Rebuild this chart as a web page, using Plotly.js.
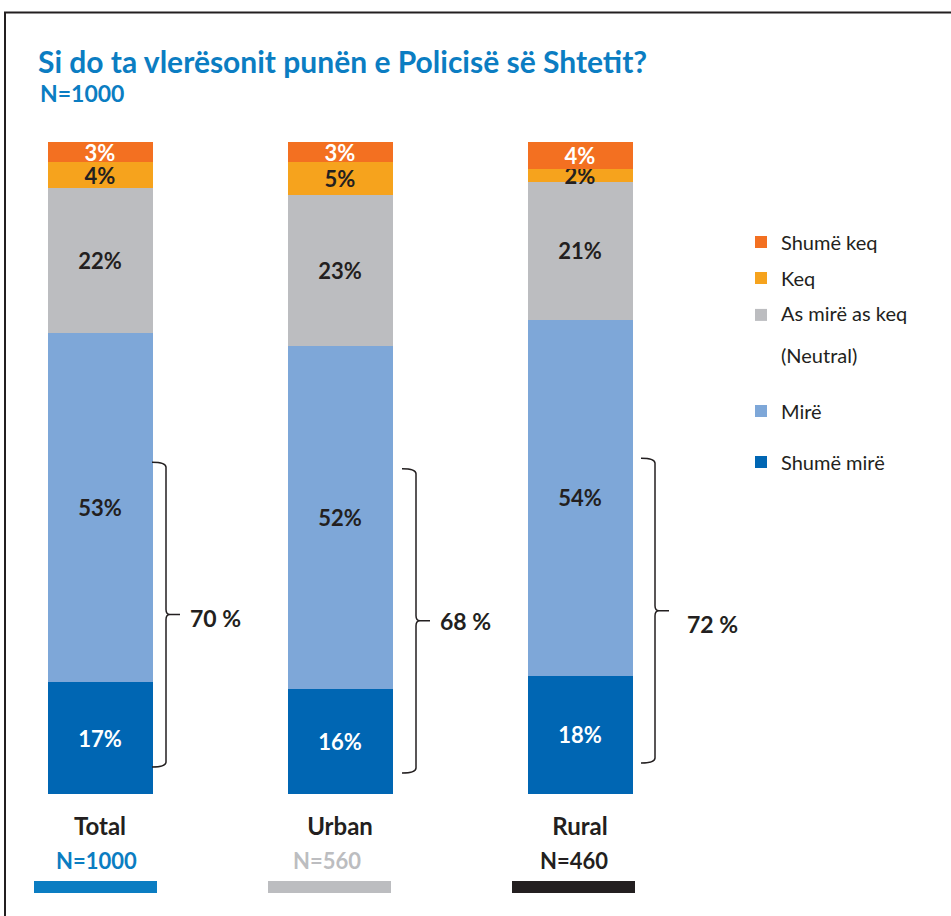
<!DOCTYPE html>
<html><head><meta charset="utf-8">
<script src="https://cdn.plot.ly/plotly-3.0.1.min.js"></script>
<style>html,body{margin:0;padding:0;background:#fff}#chart{width:951px;height:916px}</style>
</head><body><div id="chart"></div>
<script>
// ---- data ----
const categories = ['Total', 'Urban', 'Rural'];
const sampleLabels = ['N=1000', 'N=560', 'N=460'];
const shumeMire = [17, 16, 18];
const mire = [53, 52, 54];
const neutral = [22, 23, 21];
const keq = [4, 5, 2];
const shumeKeq = [3, 3, 4];
const seriesNames = ['Shumë mirë', 'Mirë', 'As mirë as keq', 'Keq', 'Shumë keq'];
const neutralNote = '(Neutral)';
const titleText = 'Si do ta vlerësonit punën e Policisë së Shtetit?';
const subtitleText = 'N=1000';

// ---- styles ----
const seriesColors = ['#0066b3', '#7ea7d8', '#bcbdc0', '#f6a31d', '#f37021'];
const textColors = ['#ffffff', '#231f20', '#231f20', '#231f20', '#ffffff'];
const sampleColors = ['#0b7dc2', '#bcbdc0', '#231f20'];
const FONT = 'Lato, "Open Sans", sans-serif';
const DARK = '#231f20';
const BLUE = '#0b7dc2';

// ---- geometry (page layout) ----
const W = 951, H = 916;
const X0 = 100, XSTEP = 240;      // px of first bar centre, px between bars
const Y0 = 794, YS = 6.583;       // px of baseline, px per percentage point
const X = px => (px - X0) / XSTEP;  // px -> x data
const Y = px => (Y0 - px) / YS;     // px -> y data
const dX = px => px / XSTEP;
const dY = px => px / YS;

const xs = categories.map((c, i) => i);
const series = [shumeMire, mire, neutral, keq, shumeKeq];

const legendNames = seriesNames.map((n, k) => k === 2
  ? '<span style="font-size:20px">' + n + '</span><br> <br><span style="font-size:20px">' + neutralNote + '</span>'
  : n);

const traces = series.map((vals, k) => ({
  type: 'bar',
  x: xs,
  y: vals,
  name: legendNames[k],
  legend: k === 0 ? 'legend' : 'legend' + (k + 1),
  marker: {color: seriesColors[k], line: {width: 0}},
  width: 105 / XSTEP,
  text: vals.map(v => v + '%'),
  textposition: 'inside',
  insidetextanchor: 'middle',
  textangle: 0,
  constraintext: 'none',
  insidetextfont: {family: FONT, size: 22, color: textColors[k], weight: 700},
  hoverinfo: 'skip',
  cliponaxis: false
}));

// legend placement (one legend per series so the uneven spacing can be kept)
const legendCentres = [462, 411, 317, 278, 242]; // per series, px
const legends = {};
legendCentres.forEach((cy, k) => {
  const key = k === 0 ? 'legend' : 'legend' + (k + 1);
  const multi = k === 2;
  legends[key] = {
    x: 741 / W, xanchor: 'left',
    y: multi ? 1 - (cy - 19) / H : 1 - cy / H,
    yanchor: multi ? 'top' : 'middle',
    valign: 'top',
    font: {family: FONT, size: multi ? 16 : 20, color: DARK},
    bgcolor: 'rgba(0,0,0,0)', borderwidth: 0,
    itemclick: false, itemdoubleclick: false
  };
});

// braces & totals
const braceTop = [50.4, 49.4, 51.0];
const braceBot = [4.1, 3.2, 4.7];
const braceX = [66, 76, 75];       // px from bar centre to brace stem
const totalLabelX = [88, 98, 105]; // px from bar centre to label start
const totalLabelDY = [3, 0, 13];   // px below brace tip
const shapes = [];
const annotations = [];

xs.forEach(i => {
  const xv = i + dX(braceX[i]);
  const fl = dX(14), tp = dX(14), r = dX(4), ry = dY(5);
  const t = braceTop[i], b = braceBot[i], m = (t + b) / 2;
  const path =
    `M ${xv - fl} ${t} Q ${xv} ${t} ${xv} ${t - ry} ` +
    `L ${xv} ${m + ry} Q ${xv} ${m} ${xv + r} ${m} L ${xv + tp} ${m} ` +
    `M ${xv + r} ${m} Q ${xv} ${m} ${xv} ${m - ry} ` +
    `L ${xv} ${b + ry} Q ${xv} ${b} ${xv - fl} ${b}`;
  shapes.push({type: 'path', xref: 'x', yref: 'y', path: path,
    line: {color: DARK, width: 1.5}});
  annotations.push({
    xref: 'x', yref: 'y', x: i + dX(totalLabelX[i]), y: m - dY(totalLabelDY[i]),
    xanchor: 'left', yanchor: 'middle', showarrow: false,
    text: (mire[i] + shumeMire[i]) + ' %',
    font: {family: FONT, size: 23, color: DARK, weight: 700}
  });
  // sample size labels
  const shift = [-4, -13, -6][i];
  annotations.push({
    xref: 'x', yref: 'y', x: i + dX(shift), y: Y(860),
    xanchor: 'center', yanchor: 'middle', showarrow: false,
    text: sampleLabels[i],
    font: {family: FONT, size: 22, color: sampleColors[i], weight: 700}
  });
  // coloured key bars under categories
  const cx = i + dX([-4.5, -10.5, -6.5][i]), hw = dX(61.5);
  shapes.push({type: 'rect', xref: 'x', yref: 'y',
    x0: cx - hw, x1: cx + hw, y0: Y(893), y1: Y(881),
    fillcolor: sampleColors[i], line: {width: 0}});
});

// subtitle (sample size of the whole survey)
annotations.push({
  xref: 'paper', yref: 'paper', x: 38 / W, y: 1 - 93 / H,
  xanchor: 'left', yanchor: 'middle', showarrow: false,
  text: subtitleText,
  font: {family: FONT, size: 23, color: BLUE, weight: 700}
});

// outer frame
shapes.push({type: 'path', xref: 'paper', yref: 'paper',
  path: `M ${5 / W} -0.01 L ${5 / W} ${1 - 12.5 / H} L 1.01 ${1 - 12.5 / H}`,
  line: {color: DARK, width: 2}});

const layout = Object.assign({
  width: W, height: H,
  margin: {l: 0, r: 0, t: 0, b: 0, pad: 0},
  paper_bgcolor: '#ffffff', plot_bgcolor: '#ffffff',
  barmode: 'stack',
  bargap: 0,
  showlegend: true,
  title: {
    text: titleText,
    x: 38 / W, xanchor: 'left', xref: 'paper',
    y: 1 - 62 / H, yanchor: 'middle', yref: 'paper',
    font: {family: FONT, size: 30, color: BLUE, weight: 700}
  },
  xaxis: {
    range: [X(0), X(W)], tickvals: xs,
    ticktext: categories.map(c => '<b>' + c + '</b>'),
    tickfont: {family: FONT, size: 24, color: DARK},
    anchor: 'free', position: (H - 810) / H,
    showline: false, zeroline: false, showgrid: false, ticks: '',
    fixedrange: true
  },
  yaxis: {range: [Y(H), Y(0)], visible: false, fixedrange: true},
  shapes: shapes,
  annotations: annotations
}, legends);

Plotly.newPlot('chart', traces, layout, {displayModeBar: false, staticPlot: true});
</script></body></html>
